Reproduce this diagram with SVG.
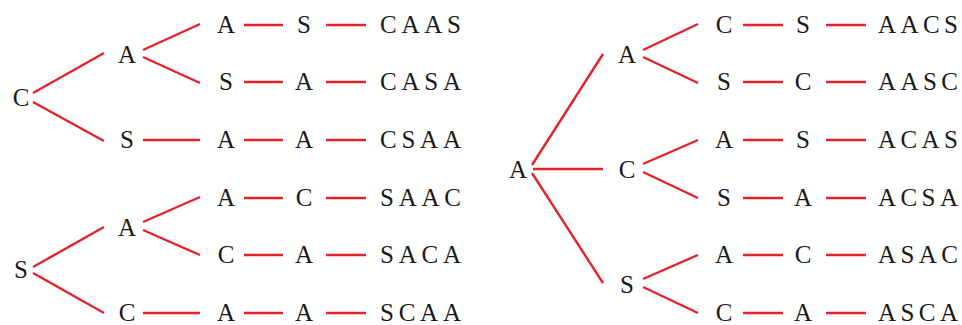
<svg xmlns="http://www.w3.org/2000/svg" width="962" height="325" viewBox="0 0 962 325">
<style>
text{font-family:"Liberation Serif","Times New Roman",serif;font-size:25px;fill:#1a1a1a;text-anchor:middle}
text.w{text-anchor:start}
#edges line{stroke:#e3232b;stroke-width:2.4;stroke-linecap:butt}
</style>
<rect width="962" height="325" fill="#fff"/>
<g id="edges">
<line x1="33" y1="93" x2="104" y2="53"/>
<line x1="33" y1="102" x2="104" y2="141"/>
<line x1="143" y1="50" x2="200" y2="24"/>
<line x1="143" y1="57" x2="200" y2="83"/>
<line x1="244" y1="25" x2="283" y2="25"/><line x1="326" y1="25" x2="366" y2="25"/>
<line x1="244" y1="82" x2="283" y2="82"/><line x1="326" y1="82" x2="366" y2="82"/>
<line x1="143" y1="140" x2="200" y2="140"/><line x1="244" y1="140" x2="283" y2="140"/><line x1="326" y1="140" x2="366" y2="140"/>
<line x1="33" y1="267" x2="104" y2="227"/>
<line x1="33" y1="273" x2="104" y2="313"/>
<line x1="143" y1="222" x2="200" y2="197"/>
<line x1="143" y1="230" x2="200" y2="255"/>
<line x1="244" y1="198" x2="283" y2="198"/><line x1="326" y1="198" x2="366" y2="198"/>
<line x1="244" y1="255" x2="283" y2="255"/><line x1="326" y1="255" x2="366" y2="255"/>
<line x1="143" y1="313" x2="200" y2="313"/><line x1="244" y1="313" x2="283" y2="313"/><line x1="326" y1="313" x2="366" y2="313"/>
<line x1="532" y1="165" x2="603" y2="54"/>
<line x1="533" y1="169" x2="603" y2="169"/>
<line x1="532" y1="173" x2="603" y2="283"/>
<line x1="643" y1="50" x2="698" y2="24"/>
<line x1="643" y1="57" x2="698" y2="83"/>
<line x1="643" y1="164" x2="698" y2="140"/>
<line x1="643" y1="172" x2="698" y2="198"/>
<line x1="643" y1="279" x2="698" y2="255"/>
<line x1="643" y1="287" x2="698" y2="313"/>
<line x1="743" y1="25" x2="783" y2="25"/><line x1="826" y1="25" x2="866" y2="25"/>
<line x1="743" y1="82" x2="783" y2="82"/><line x1="826" y1="82" x2="866" y2="82"/>
<line x1="743" y1="140" x2="783" y2="140"/><line x1="826" y1="140" x2="866" y2="140"/>
<line x1="743" y1="198" x2="783" y2="198"/><line x1="826" y1="198" x2="866" y2="198"/>
<line x1="743" y1="255" x2="783" y2="255"/><line x1="826" y1="255" x2="866" y2="255"/>
<line x1="743" y1="313" x2="783" y2="313"/><line x1="826" y1="313" x2="866" y2="313"/>
</g>
<g id="L1-root"><text x="21" y="106">C</text></g>
<g id="L1-A"><text x="127" y="63">A</text></g>
<g id="L1-S"><text x="127" y="148">S</text></g>
<g id="L1-r1"><text x="226" y="33">A</text><text x="304" y="33">S</text><text class="w" x="380" y="33" textLength="81" lengthAdjust="spacing">CAAS</text></g>
<g id="L1-r2"><text x="226" y="90">S</text><text x="304" y="90">A</text><text class="w" x="380" y="90" textLength="81" lengthAdjust="spacing">CASA</text></g>
<g id="L1-r3"><text x="226" y="148">A</text><text x="304" y="148">A</text><text class="w" x="380" y="148" textLength="81" lengthAdjust="spacing">CSAA</text></g>
<g id="L2-root"><text x="21" y="278">S</text></g>
<g id="L2-A"><text x="127" y="236">A</text></g>
<g id="L2-C"><text x="127" y="321">C</text></g>
<g id="L2-r1"><text x="226" y="206">A</text><text x="304" y="206">C</text><text class="w" x="380" y="206" textLength="81" lengthAdjust="spacing">SAAC</text></g>
<g id="L2-r2"><text x="226" y="263">C</text><text x="304" y="263">A</text><text class="w" x="380" y="263" textLength="81" lengthAdjust="spacing">SACA</text></g>
<g id="L2-r3"><text x="226" y="321">A</text><text x="304" y="321">A</text><text class="w" x="380" y="321" textLength="81" lengthAdjust="spacing">SCAA</text></g>
<g id="R-root"><text x="518" y="178">A</text></g>
<g id="R-A"><text x="627" y="63">A</text></g>
<g id="R-C"><text x="627" y="178">C</text></g>
<g id="R-S"><text x="627" y="293">S</text></g>
<g id="R-r1"><text x="724" y="33">C</text><text x="803" y="33">S</text><text class="w" x="878" y="33" textLength="80" lengthAdjust="spacing">AACS</text></g>
<g id="R-r2"><text x="724" y="90">S</text><text x="803" y="90">C</text><text class="w" x="878" y="90" textLength="80" lengthAdjust="spacing">AASC</text></g>
<g id="R-r3"><text x="724" y="148">A</text><text x="803" y="148">S</text><text class="w" x="878" y="148" textLength="80" lengthAdjust="spacing">ACAS</text></g>
<g id="R-r4"><text x="724" y="206">S</text><text x="803" y="206">A</text><text class="w" x="878" y="206" textLength="80" lengthAdjust="spacing">ACSA</text></g>
<g id="R-r5"><text x="724" y="263">A</text><text x="803" y="263">C</text><text class="w" x="878" y="263" textLength="80" lengthAdjust="spacing">ASAC</text></g>
<g id="R-r6"><text x="724" y="321">C</text><text x="803" y="321">A</text><text class="w" x="878" y="321" textLength="80" lengthAdjust="spacing">ASCA</text></g>
</svg>
